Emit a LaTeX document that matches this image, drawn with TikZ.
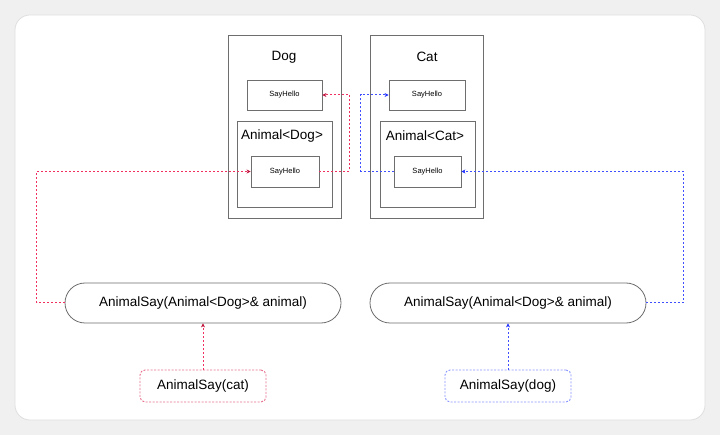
\documentclass[tikz,border=0pt]{standalone}
\usepackage{fontspec}
\setmainfont{Liberation Sans}
\usetikzlibrary{arrows.meta}
\definecolor{cred}{HTML}{C0103A}
\definecolor{cblue}{HTML}{2030FF}
\definecolor{lred}{HTML}{F03060}
\definecolor{lblue}{HTML}{4050FF}
\definecolor{bred}{HTML}{E8708C}
\definecolor{bblue}{HTML}{8C96FF}
\definecolor{cgray}{HTML}{6E6E6E}
\begin{document}
\begin{tikzpicture}[x=1pt,y=-1pt,
  frame/.style={draw=cgray,line width=0.8pt,rectangle,inner sep=0pt},
  method/.style={frame,font=\fontsize{7.5}{9}\selectfont},
  title/.style={font=\fontsize{13.5}{16}\selectfont,inner sep=0pt},
  callbox/.style={draw=cgray,line width=0.8pt,rectangle,rounded corners=20pt,minimum width=276pt,minimum height=40pt,inner sep=0pt,font=\fontsize{13.5}{16}\selectfont},
  argbox/.style={line width=0.9pt,rectangle,rounded corners=5pt,minimum width=126pt,minimum height=32pt,inner sep=0pt,dash pattern=on 2pt off 1.5pt,font=\fontsize{13.5}{16}\selectfont},
  redlink/.style={line width=1pt,draw=lred,dash pattern=on 2pt off 2pt,-{Stealth[length=4pt,width=4pt,color=cred]}},
  bluelink/.style={line width=1pt,draw=lblue,dash pattern=on 2pt off 2pt,-{Stealth[length=4pt,width=4pt,color=cblue]}}
]
\useasboundingbox (0,0) rectangle (720,435);
\fill[gray!12] (0,0) rectangle (720,435);
\fill[white,draw=gray!25,rounded corners=15pt,line width=0.8pt] (15,15) rectangle (705,420);

% Dog
\node[frame,minimum width=113pt,minimum height=183pt] (dogbox) at (284.5,126.5) {};
\node[title] (dogt) at (284,57) {Dog};
\node[method,minimum width=75pt,minimum height=30pt] (dogtop) at (284.5,95) {SayHello};
\node[frame,minimum width=95pt,minimum height=86pt] (doganim) at (284.5,164) {};
\node[title] (doganimt) at (282,136) {Animal<Dog>};
\node[method,minimum width=68pt,minimum height=31pt] (dogin) at (285,171.5) {SayHello};

% Cat
\node[frame,minimum width=113pt,minimum height=183pt] (catbox) at (426.5,126.5) {};
\node[title] (catt) at (427,57) {Cat};
\node[method,minimum width=76pt,minimum height=30pt] (cattop) at (427,95) {SayHello};
\node[frame,minimum width=95pt,minimum height=86pt] (catanim) at (427.5,164) {};
\node[title] (catanimt) at (425,136) {Animal<Cat>};
\node[method,minimum width=67pt,minimum height=31pt] (catin) at (427.5,171.5) {SayHello};

% calls
\node[callbox] (ellL) at (203,303) {AnimalSay(Animal<Dog>\& animal)};
\node[callbox] (ellR) at (508,303) {AnimalSay(Animal<Dog>\& animal)};
\node[argbox,draw=bred] (argcat) at (203,386) {AnimalSay(cat)};
\node[argbox,draw=bblue] (argdog) at (508,386) {AnimalSay(dog)};

% red links
\draw[redlink] (argcat.north) -- (ellL.south);
\draw[redlink] (ellL.west) -- ++(-28,0) |- (dogin.west);
\draw[redlink] (dogin.east) -- ++(30,0) |- (dogtop.east);

% blue links
\draw[bluelink] (argdog.north) -- (ellR.south);
\draw[bluelink] (ellR.east) -- ++(37,0) |- (catin.east);
\draw[bluelink] (catin.west) -- ++(-33,0) |- (cattop.west);
\end{tikzpicture}
\end{document}
